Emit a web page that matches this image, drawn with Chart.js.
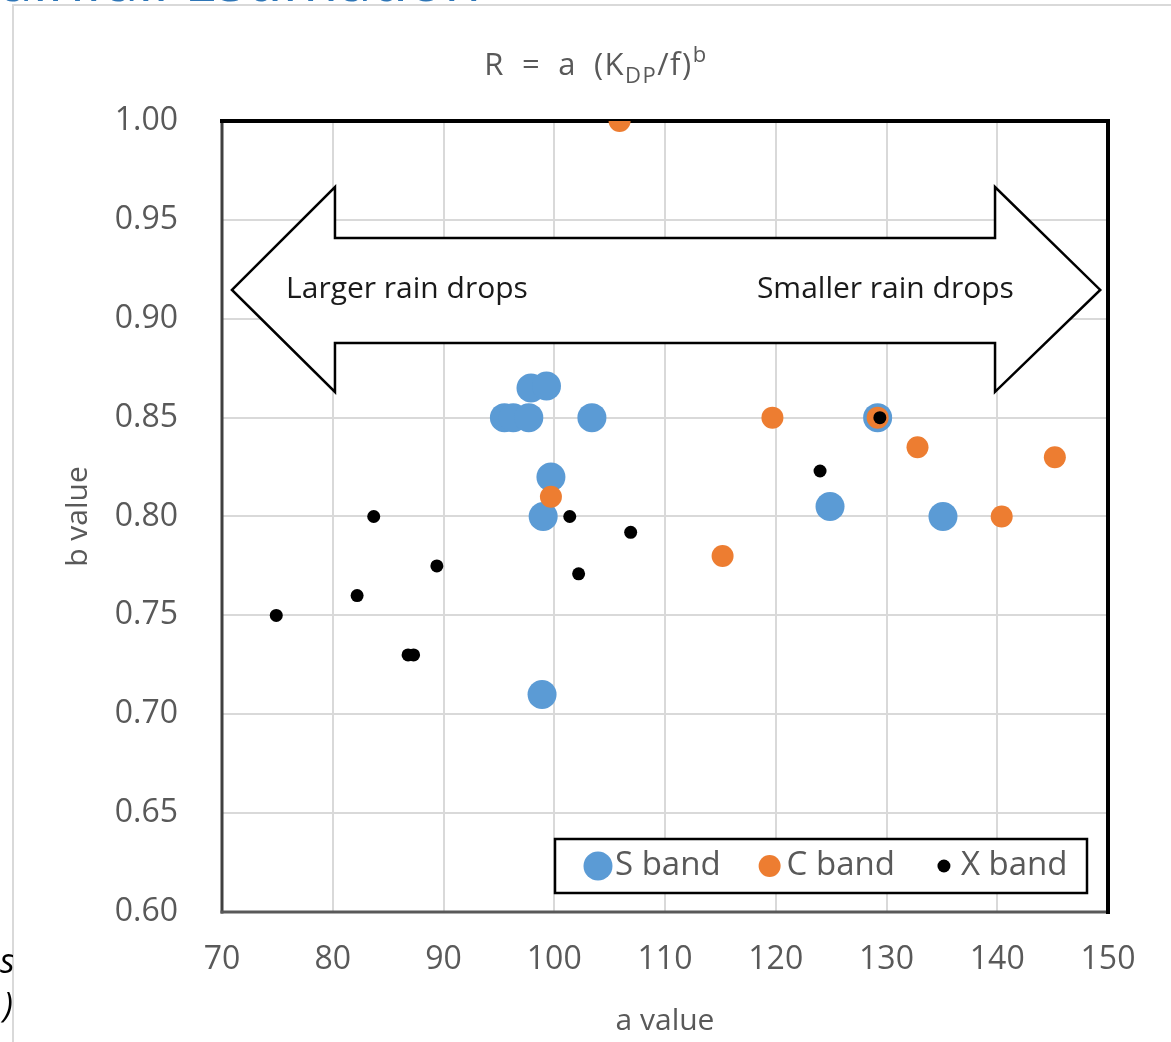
<!DOCTYPE html>
<html>
<head>
    <title>R = a (KDP/f)^b</title>
    <script src="https://cdn.jsdelivr.net/npm/chart.js"></script>
    <style>
        body { margin: 0; background: #fff; }
        #wrap { position: relative; width: 1171px; height: 1042px; overflow: hidden; }
        #slide-title { position: absolute; right: 690px; top: -63px; font: 60px 'Open Sans', sans-serif; color: #2e75b6; white-space: nowrap; z-index: 2; }
        #slide-note { position: absolute; left: 0; top: 938px; width: 13px; overflow: hidden; font: italic 34px 'Open Sans', sans-serif; color: #000; text-align: right; line-height: 44px; }
    </style>
</head>
<body>
<div id="wrap">
    <canvas id="ab-chart" width="1171" height="1042"></canvas>
    <div id="slide-title">Rainfall Estimation</div>
    <div id="slide-note">s<br>)</div>
</div>

<script>
    // values (a value, b value)
    const sBandA = [95.5, 96.3, 97.7, 97.9, 99.3, 103.4, 99.7, 99.0, 98.9, 129.2, 124.9, 135.1];
    const sBandB = [0.85, 0.85, 0.85, 0.865, 0.866, 0.85, 0.82, 0.80, 0.71, 0.85, 0.805, 0.80];

    const cBandA = [105.9, 99.7, 115.2, 119.7, 129.2, 132.8, 140.4, 145.2];
    const cBandB = [1.00, 0.81, 0.78, 0.85, 0.85, 0.835, 0.80, 0.83];

    const xBandA = [74.9, 82.2, 83.7, 86.8, 87.3, 89.4, 101.4, 102.2, 106.9, 124.0, 129.4];
    const xBandB = [0.75, 0.76, 0.80, 0.73, 0.73, 0.775, 0.80, 0.771, 0.792, 0.823, 0.85];

    const bandNames = ['S band', 'C band', 'X band'];
    const xTicks = [70, 80, 90, 100, 110, 120, 130, 140, 150];
    const yTicks = [0.60, 0.65, 0.70, 0.75, 0.80, 0.85, 0.90, 0.95, 1.00];

    // double arrow annotation, in axis units
    const arrow = { tipL: 70.9, baseL: 80.2, baseR: 139.8, tipR: 149.3,
                    headTop: 0.9666, shaftTop: 0.9408, mid: 0.9146, shaftBot: 0.8878, headBot: 0.863 };
    const arrowLabels = [['Larger rain drops', 86.7], ['Smaller rain drops', 129.9]];

    const FONT = "'Open Sans', sans-serif";
    const GRAY = '#595959';

    function pts(xs, ys) {
        return xs.map((x, i) => ({ x: x, y: ys[i] }));
    }

    const decorations = {
        id: 'decorations',
        beforeDraw(chart) {
            const ctx = chart.ctx;
            ctx.save();
            ctx.fillStyle = '#fff';
            ctx.fillRect(0, 0, chart.width, chart.height);
            // outer chart border (light gray)
            ctx.strokeStyle = '#d9d9d9';
            ctx.lineWidth = 2;
            ctx.beginPath();
            ctx.moveTo(13, chart.height + 2);
            ctx.lineTo(13, 5);
            ctx.lineTo(chart.width + 2, 5);
            ctx.stroke();

            // title with subscript and superscript
            const parts = [['R\u2002=\u2002a\u2002(K', 31, 0], ['DP', 22, 8], ['/f)', 31, 0], ['b', 22, -13]];
            ctx.letterSpacing = '1.5px';
            let total = 0;
            parts.forEach(p => { ctx.font = p[1] + 'px ' + FONT; total += ctx.measureText(p[0]).width; });
            let x = 596 - total / 2;
            ctx.fillStyle = GRAY;
            ctx.textBaseline = 'alphabetic';
            parts.forEach(p => {
                ctx.font = p[1] + 'px ' + FONT;
                ctx.fillText(p[0], x, 75 + p[2]);
                x += ctx.measureText(p[0]).width;
            });
            ctx.restore();
        },
        beforeDatasetsDraw(chart) {
            const ctx = chart.ctx;
            const xs = chart.scales.x, ys = chart.scales.y;
            const a = chart.chartArea;
            ctx.save();

            // arrow
            const X = v => xs.getPixelForValue(v), Y = v => ys.getPixelForValue(v);
            ctx.beginPath();
            ctx.moveTo(X(arrow.tipL), Y(arrow.mid));
            ctx.lineTo(X(arrow.baseL), Y(arrow.headTop));
            ctx.lineTo(X(arrow.baseL), Y(arrow.shaftTop));
            ctx.lineTo(X(arrow.baseR), Y(arrow.shaftTop));
            ctx.lineTo(X(arrow.baseR), Y(arrow.headTop));
            ctx.lineTo(X(arrow.tipR), Y(arrow.mid));
            ctx.lineTo(X(arrow.baseR), Y(arrow.headBot));
            ctx.lineTo(X(arrow.baseR), Y(arrow.shaftBot));
            ctx.lineTo(X(arrow.baseL), Y(arrow.shaftBot));
            ctx.lineTo(X(arrow.baseL), Y(arrow.headBot));
            ctx.closePath();
            ctx.fillStyle = '#fff';
            ctx.fill();
            ctx.strokeStyle = '#000';
            ctx.lineWidth = 2.5;
            ctx.lineJoin = 'miter';
            ctx.stroke();

            ctx.fillStyle = '#1a1a1a';
            ctx.font = '30px ' + FONT;
            ctx.textAlign = 'center';
            ctx.textBaseline = 'middle';
            arrowLabels.forEach(l => ctx.fillText(l[0], X(l[1]), Y(arrow.mid)));

            // plot frame
            ctx.lineCap = 'square';
            ctx.strokeStyle = '#404040';
            ctx.lineWidth = 3;
            ctx.beginPath();
            ctx.moveTo(a.left, a.top);
            ctx.lineTo(a.left, a.bottom);
            ctx.stroke();
            ctx.strokeStyle = '#595959';
            ctx.beginPath();
            ctx.moveTo(a.left, a.bottom);
            ctx.lineTo(a.right, a.bottom);
            ctx.stroke();
            ctx.strokeStyle = '#000';
            ctx.lineWidth = 4;
            ctx.beginPath();
            ctx.moveTo(a.left, a.top);
            ctx.lineTo(a.right, a.top);
            ctx.lineTo(a.right, a.bottom);
            ctx.stroke();
            ctx.restore();
        },
        afterDraw(chart) {
            // legend box inside the plot, bottom right
            const ctx = chart.ctx;
            const a = chart.chartArea;
            const box = { left: a.right - 553, top: a.bottom - 73, w: 532, h: 54 };
            ctx.save();
            ctx.fillStyle = '#fff';
            ctx.fillRect(box.left, box.top, box.w, box.h);
            ctx.strokeStyle = '#000';
            ctx.lineWidth = 2.5;
            ctx.strokeRect(box.left, box.top, box.w, box.h);

            ctx.font = '33px ' + FONT;
            ctx.textBaseline = 'middle';
            const cy = box.top + box.h / 2;
            let x = box.left + 30;
            chart.data.datasets.forEach((ds, i) => {
                const r = ds.pointRadius;
                ctx.fillStyle = ds.backgroundColor;
                ctx.beginPath();
                ctx.arc(x + 13, cy, r, 0, Math.PI * 2);
                ctx.fill();
                x += 30;
                ctx.fillStyle = GRAY;
                ctx.fillText(ds.label, x, cy);
                x += ctx.measureText(ds.label).width + 36;
            });
            ctx.restore();
        }
    };

    const ctx = document.getElementById('ab-chart').getContext('2d');
    new Chart(ctx, {
        type: 'scatter',
        data: {
            datasets: [{
                label: bandNames[0],
                data: pts(sBandA, sBandB),
                backgroundColor: '#5b9bd5',
                borderColor: '#5b9bd5',
                pointRadius: 14.5,
                order: 3
            }, {
                label: bandNames[1],
                data: pts(cBandA, cBandB),
                backgroundColor: '#ed7d31',
                borderColor: '#ed7d31',
                pointRadius: 11,
                order: 2
            }, {
                label: bandNames[2],
                data: pts(xBandA, xBandB),
                backgroundColor: '#000000',
                borderColor: '#000000',
                pointRadius: 6.5,
                order: 1
            }]
        },
        options: {
            responsive: false,
            animation: false,
            layout: { padding: { top: 121, right: 63, left: 0, bottom: 0 } },
            plugins: {
                legend: { display: false },
                title: { display: false },
                tooltip: { enabled: false }
            },
            elements: { point: { borderWidth: 0, hoverRadius: 0 } },
            scales: {
                x: {
                    type: 'linear',
                    min: xTicks[0],
                    max: xTicks[xTicks.length - 1],
                    afterBuildTicks: s => { s.ticks = xTicks.map(v => ({ value: v })); },
                    afterFit: s => { s.height = 130; },
                    grid: { color: '#d9d9d9', lineWidth: 2, drawTicks: false },
                    border: { display: false },
                    ticks: { color: GRAY, font: { family: FONT, size: 32 }, padding: 29 },
                    title: {
                        display: true, text: 'a value', color: GRAY,
                        font: { family: FONT, size: 30 }, padding: { top: 0, bottom: 3 }
                    }
                },
                y: {
                    type: 'linear',
                    min: yTicks[0],
                    max: yTicks[yTicks.length - 1],
                    afterBuildTicks: s => { s.ticks = yTicks.map(v => ({ value: v })); },
                    afterFit: s => { s.width = 222; },
                    grid: { color: '#d9d9d9', lineWidth: 2, drawTicks: false },
                    border: { display: false },
                    ticks: {
                        color: GRAY, font: { family: FONT, size: 32 }, padding: 44,
                        callback: v => v.toFixed(2)
                    },
                    title: {
                        display: true, text: 'b value', color: GRAY,
                        font: { family: FONT, size: 30 }, padding: { top: 60, bottom: 0 }
                    }
                }
            }
        },
        plugins: [decorations]
    });
</script>
</body>
</html>
